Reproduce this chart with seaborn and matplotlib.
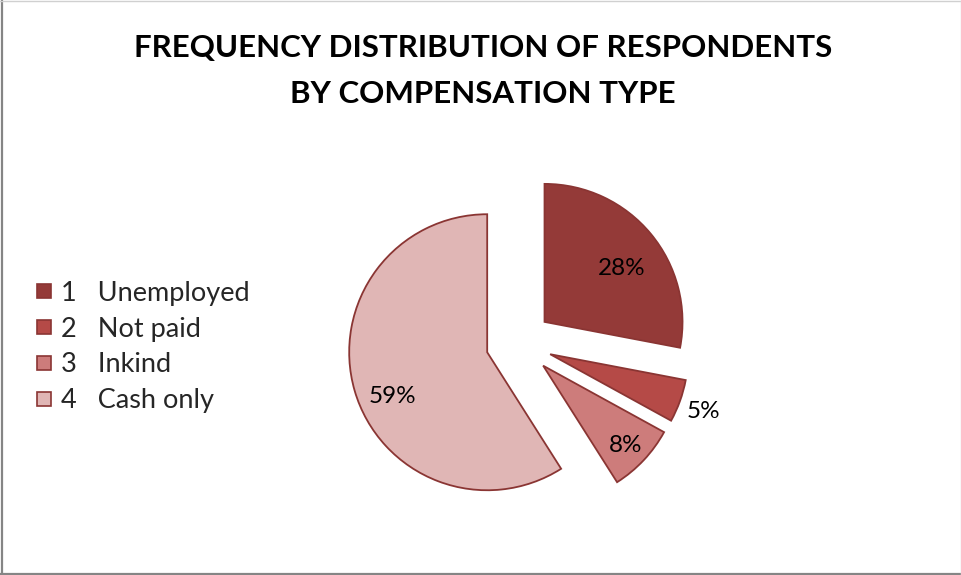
import matplotlib
matplotlib.use("Agg")
import matplotlib.pyplot as plt
import numpy as np
import seaborn as sns
from matplotlib.lines import Line2D

# Data
codes = ["1", "2", "3", "4"]
categories = ["Unemployed", "Not paid", "Inkind", "Cash only"]
shares = [28, 5, 8, 59]
title = "FREQUENCY DISTRIBUTION OF RESPONDENTS\nBY COMPENSATION TYPE"

# Styling
slice_colors = ["#943A38", "#B54A47", "#CD7C7B", "#E0B6B5"]
edge_color = "#8A3533"
label_dist = [0.93, 1.42, 1.06, 0.99]   # label distance from pie centre, in radii
label_turn = [-3.0, 0.0, 0.0, 6.0]      # small angular nudge of each label, degrees
explode_frac = 0.24

sns.set_theme(style="white")
plt.rcParams["font.family"] = ["Lato", "DejaVu Sans"]

W, H, DPI = 961, 575, 100
fig = plt.figure(figsize=(W / DPI, H / DPI), dpi=DPI)
fig.patch.set_facecolor("white")

# Axes spanning the figure; one data unit equals the pie radius in pixels
R_PX = 138.0
CX, CY = 519.0, 343.0
ax = fig.add_axes([0, 0, 1, 1])

wedges, _ = ax.pie(
    shares,
    colors=slice_colors,
    startangle=90,
    counterclock=False,
    explode=[explode_frac] * len(shares),
    radius=1.0,
    center=(0, 0),
    wedgeprops=dict(edgecolor=edge_color, linewidth=1.3),
    frame=True,
)
ax.set_aspect("auto")
ax.set_xlim(-CX / R_PX, (W - CX) / R_PX)
ax.set_ylim(-(H - CY) / R_PX, CY / R_PX)
ax.axis("off")

for w, v, d, t in zip(wedges, shares, label_dist, label_turn):
    mid = np.deg2rad((w.theta1 + w.theta2) / 2 + t)
    ax.text(d * np.cos(mid), d * np.sin(mid), f"{v}%",
            ha="center", va="center_baseline", fontsize=17.5, color="black")

# Title
fig.text(483 / W, 1 - 71 / H, title, ha="center", va="center",
         fontsize=22.5, fontweight="bold", color="black", linespacing=1.8)

# Legend
handles = [Line2D([0], [0], marker="s", linestyle="none", markersize=10,
                  markerfacecolor=c, markeredgecolor=edge_color, markeredgewidth=1.2)
           for c in slice_colors]
labels = [f"{c}   {n}" for c, n in zip(codes, categories)]
fig.legend(handles, labels, loc="center left",
           bbox_to_anchor=(24 / W, 1 - 347 / H), frameon=False,
           fontsize=19.5, handlelength=0.7, handletextpad=0.25,
           labelspacing=0.4, borderaxespad=0)

# Chart-area border
fig.add_artist(Line2D([1.5 / W, 1.5 / W], [0, 1], color="#858585", lw=1.6,
                      transform=fig.transFigure))
fig.add_artist(Line2D([0, 1], [1.5 / H, 1.5 / H], color="#858585", lw=1.6,
                      transform=fig.transFigure))
fig.add_artist(Line2D([0, 1], [1 - 0.5 / H, 1 - 0.5 / H], color="#d0d0d0", lw=1,
                      transform=fig.transFigure))
fig.add_artist(Line2D([1 - 0.5 / W, 1 - 0.5 / W], [0, 1], color="#e0e0e0", lw=1,
                      transform=fig.transFigure))

fig.savefig("out.png", dpi=DPI)
